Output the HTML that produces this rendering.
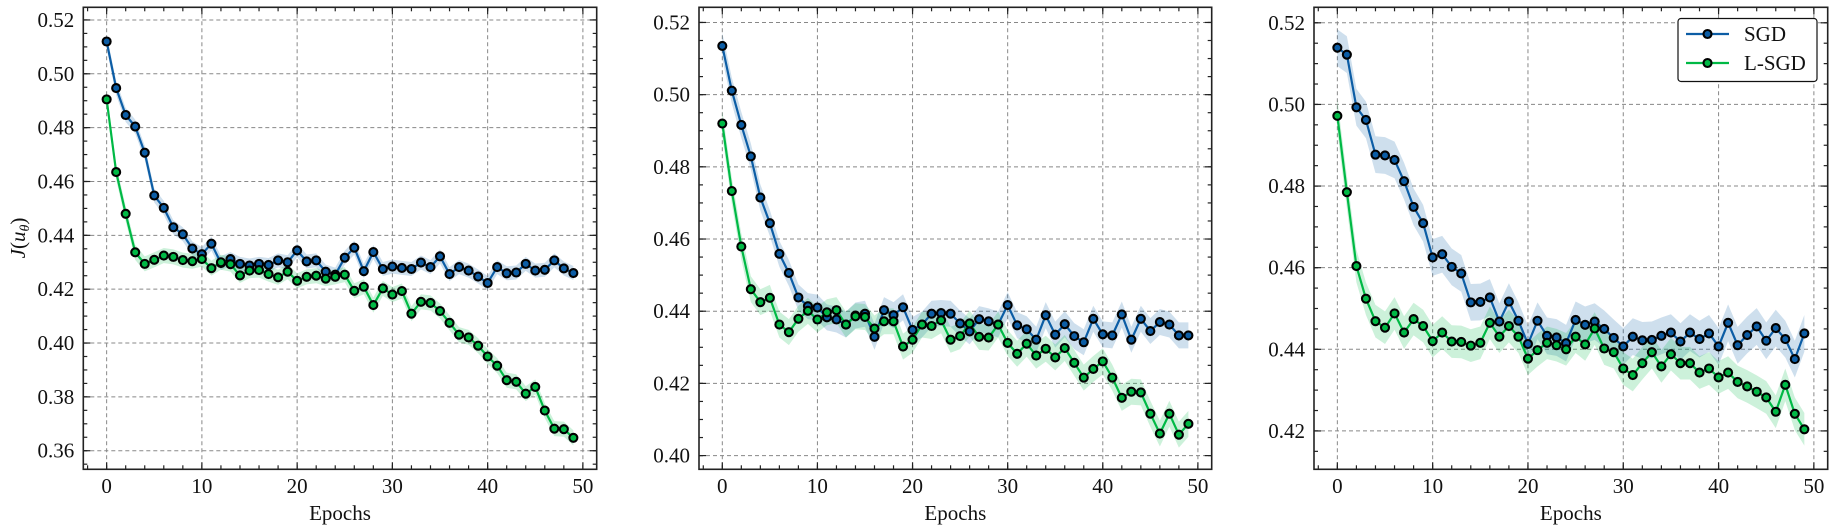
<!DOCTYPE html>
<html><head><meta charset="utf-8">
<style>
html,body{margin:0;padding:0;background:#fff;}
svg{display:block;font-family:"Liberation Serif","DejaVu Serif",serif;}
</style></head>
<body>
<svg id="chart" width="1835" height="530" viewBox="0 0 1835 530" xmlns="http://www.w3.org/2000/svg"></svg>
<script>
const epochs = Array.from({length:50},(_,i)=>i);
const xTicks = [0,10,20,30,40,50];
const sgd1 = [0.512,0.4947,0.4847,0.4804,0.4707,0.4548,0.4502,0.4430,0.4404,0.4351,0.4330,0.4369,0.4297,0.4312,0.4294,0.4288,0.4294,0.4290,0.4307,0.4300,0.4344,0.4303,0.4307,0.4265,0.4254,0.4317,0.4354,0.4267,0.4338,0.4275,0.4284,0.4279,0.4275,0.4299,0.4282,0.4322,0.4256,0.4282,0.4269,0.4247,0.4223,0.4282,0.4259,0.4262,0.4294,0.4269,0.4272,0.4307,0.4277,0.4260];
const lsgd1 = [0.4905,0.4635,0.4480,0.4337,0.4294,0.4309,0.4325,0.4320,0.4308,0.4304,0.4312,0.4278,0.4300,0.4293,0.4251,0.4269,0.4271,0.4256,0.4244,0.4265,0.4231,0.4246,0.4250,0.4239,0.4246,0.4254,0.4194,0.4209,0.4141,0.4203,0.4180,0.4193,0.4109,0.4153,0.4149,0.4119,0.4075,0.4031,0.4021,0.3990,0.3950,0.3916,0.3862,0.3856,0.3812,0.3837,0.3749,0.3682,0.3680,0.3648];
const sgd2 = [0.5135,0.5011,0.4916,0.4829,0.4715,0.4644,0.4559,0.4506,0.4438,0.4414,0.4410,0.4383,0.4377,0.4363,0.4388,0.4393,0.4329,0.4403,0.4389,0.4411,0.4348,0.4363,0.4393,0.4395,0.4393,0.4366,0.4344,0.4378,0.4372,0.4363,0.4417,0.4361,0.4350,0.4321,0.4389,0.4335,0.4364,0.4331,0.4314,0.4379,0.4336,0.4333,0.4391,0.4321,0.4379,0.4345,0.4370,0.4363,0.4333,0.4333];
const lsgd2 = [0.4920,0.4733,0.4579,0.4461,0.4425,0.4437,0.4363,0.4342,0.4379,0.4401,0.4377,0.4397,0.4403,0.4363,0.4386,0.4384,0.4352,0.4372,0.4372,0.4302,0.4321,0.4363,0.4359,0.4375,0.4321,0.4331,0.4366,0.4329,0.4327,0.4363,0.4312,0.4282,0.4310,0.4277,0.4296,0.4272,0.4298,0.4257,0.4216,0.4240,0.4261,0.4216,0.4160,0.4177,0.4175,0.4116,0.4061,0.4116,0.4058,0.4088];
const sgd3 = [0.5139,0.5122,0.4993,0.4962,0.4877,0.4875,0.4864,0.4812,0.4749,0.4709,0.4625,0.4633,0.4602,0.4586,0.4515,0.4516,0.4527,0.4468,0.4517,0.4470,0.4413,0.4470,0.4433,0.4429,0.4415,0.4472,0.4460,0.4468,0.4450,0.4428,0.4407,0.4431,0.4422,0.4423,0.4433,0.4441,0.4419,0.4441,0.4425,0.4439,0.4407,0.4465,0.4410,0.4435,0.4456,0.4421,0.4452,0.4425,0.4376,0.4439];
const lsgd3 = [0.4972,0.4785,0.4604,0.4524,0.4469,0.4453,0.4488,0.4441,0.4474,0.4457,0.4420,0.4441,0.4419,0.4418,0.4409,0.4416,0.4465,0.4431,0.4457,0.4431,0.4377,0.4398,0.4416,0.4410,0.4400,0.4431,0.4412,0.4451,0.4402,0.4393,0.4353,0.4337,0.4366,0.4393,0.4358,0.4388,0.4366,0.4366,0.4343,0.4353,0.4331,0.4343,0.4320,0.4309,0.4296,0.4282,0.4247,0.4313,0.4242,0.4204];
const yTicks1 = [0.36,0.38,0.40,0.42,0.44,0.46,0.48,0.50,0.52];
const yTicks2 = [0.40,0.42,0.44,0.46,0.48,0.50,0.52];
const yTicks3 = [0.42,0.44,0.46,0.48,0.50,0.52];
const band1 = [0.0026,0.0028];
const band2 = [0.0036,0.0036];
const band3 = [0.0045,0.0040];

const NS="http://www.w3.org/2000/svg";
const svg=document.getElementById('chart');
const BLUE="#0C5DA5", GREEN="#00B945";
const FS=21;
function mk(tag,attrs,parent){const e=document.createElementNS(NS,tag);for(const k in attrs)e.setAttribute(k,attrs[k]);(parent||svg).appendChild(e);return e;}

const panels=[
 {x0:83.3,x1:596.7,yd:[0.3531,0.5247],yt:yTicks1,s:sgd1,l:lsgd1,b:band1,ylabel:true,legend:false},
 {x0:699,x1:1211.7,yd:[0.3962,0.5242],yt:yTicks2,s:sgd2,l:lsgd2,b:band2,ylabel:false,legend:false},
 {x0:1314,x1:1827.7,yd:[0.4106,0.5238],yt:yTicks3,s:sgd3,l:lsgd3,b:band3,ylabel:false,legend:true}
];
const plotTop=7.3,plotBot=469.3;
panels.forEach((p,pi)=>{
  const g=mk('g',{});
  
  
  const xs=v=>p.x0+(v+2.45)/(53.9)*(p.x1-p.x0);
  const ys=v=>plotBot-(v-p.yd[0])/(p.yd[1]-p.yd[0])*(plotBot-plotTop);
  xTicks.forEach(t=>{const l=mk('line',{x1:xs(t),x2:xs(t),y1:plotTop,y2:plotBot,stroke:'#888','stroke-width':1,'stroke-dasharray':'4,3'},g);
    
    });
  p.yt.forEach(t=>{const l=mk('line',{x1:p.x0,x2:p.x1,y1:ys(t),y2:ys(t),stroke:'#888','stroke-width':1,'stroke-dasharray':'4,3'},g);
    
    });
  [[p.s,BLUE,p.b[0],'sgd'],[p.l,GREEN,p.b[1],'lsgd']].forEach(([arr,c,bw,nm])=>{
    const upper=arr.map((v,i)=>xs(epochs[i])+','+ys(v+bw));
    const lower=arr.map((v,i)=>xs(epochs[i])+','+ys(v-bw)).reverse();
    const poly=mk('polygon',{points:upper.concat(lower).join(' '),fill:c,'fill-opacity':0.2,stroke:'none'},g);
    
    
  });
  [[p.s,BLUE,'sgd'],[p.l,GREEN,'lsgd']].forEach(([arr,c,nm])=>{
    const pl=mk('polyline',{points:arr.map((v,i)=>xs(epochs[i])+','+ys(v)).join(' '),fill:'none',stroke:c,'stroke-width':2.2},g);
    
    
  });
  [[p.s,BLUE,'sgd'],[p.l,GREEN,'lsgd']].forEach(([arr,c,nm])=>{
    arr.forEach((v,i)=>{const m=mk('circle',{cx:xs(epochs[i]),cy:ys(v),r:4,fill:c,stroke:'#000','stroke-width':2.1},g);
      
      });
  });
  const fr=mk('rect',{x:p.x0,y:plotTop,width:p.x1-p.x0,height:plotBot-plotTop,fill:'none',stroke:'#222','stroke-width':1.6},g);
  
  
  for(let v=-2;v<=51;v+=2){const X=xs(v);
    mk('line',{x1:X,x2:X,y1:plotBot,y2:plotBot-4,stroke:'#222','stroke-width':1.2},g);
    mk('line',{x1:X,x2:X,y1:plotTop,y2:plotTop+4,stroke:'#222','stroke-width':1.2},g);}
  xTicks.forEach(t=>{const X=xs(t);
    mk('line',{x1:X,x2:X,y1:plotBot,y2:plotBot-7,stroke:'#222','stroke-width':1.2},g);
    mk('line',{x1:X,x2:X,y1:plotTop,y2:plotTop+7,stroke:'#222','stroke-width':1.2},g);
    const tx=mk('text',{x:X,y:493,'text-anchor':'middle','font-size':FS,fill:'#111'},g);tx.textContent=t;
    
    });
  const step=0.005;
  for(let k=Math.ceil(p.yd[0]/step);k*step<=p.yd[1];k++){const Y=ys(k*step);
    mk('line',{x1:p.x0,x2:p.x0+4,y1:Y,y2:Y,stroke:'#222','stroke-width':1.2},g);
    mk('line',{x1:p.x1,x2:p.x1-4,y1:Y,y2:Y,stroke:'#222','stroke-width':1.2},g);}
  p.yt.forEach(t=>{const Y=ys(t);
    mk('line',{x1:p.x0,x2:p.x0+7,y1:Y,y2:Y,stroke:'#222','stroke-width':1.2},g);
    mk('line',{x1:p.x1,x2:p.x1-7,y1:Y,y2:Y,stroke:'#222','stroke-width':1.2},g);
    const tx=mk('text',{x:p.x0-9,y:Y+7,'text-anchor':'end','font-size':FS,fill:'#111'},g);tx.textContent=t.toFixed(2);
    
    });
  const xl=mk('text',{x:(p.x0+p.x1)/2,y:520,'text-anchor':'middle','font-size':FS,fill:'#111'},g);xl.textContent='Epochs';
  
  
  if(p.ylabel){
    const yl=mk('text',{x:0,y:0,transform:'translate(25,238) rotate(-90)','text-anchor':'middle','font-size':FS,fill:'#111'},g);
    
    
    yl.innerHTML='<tspan font-style="italic">J</tspan>(<tspan font-style="italic">u</tspan><tspan font-style="italic" font-size="14" dy="4">θ</tspan><tspan dy="-4">)</tspan>';
  }
  if(p.legend){
    const lg=mk('g',{},g);
    
    
    mk('rect',{x:1678,y:18.5,width:139,height:63,rx:3,fill:'#fff',stroke:'#111','stroke-width':1.2},lg);
    [['SGD',BLUE,34],['L-SGD',GREEN,63]].forEach(([lab,c,y])=>{
      const e=mk('g',{},lg);
      
      
      mk('line',{x1:1686,x2:1729,y1:y,y2:y,stroke:c,'stroke-width':2.2},e);
      mk('circle',{cx:1707.5,cy:y,r:4,fill:c,stroke:'#000','stroke-width':2.1},e);
      const t=mk('text',{x:1744,y:y+7,'font-size':FS,fill:'#111'},e);t.textContent=lab;
    });
  }
});
</script>
</body></html>
